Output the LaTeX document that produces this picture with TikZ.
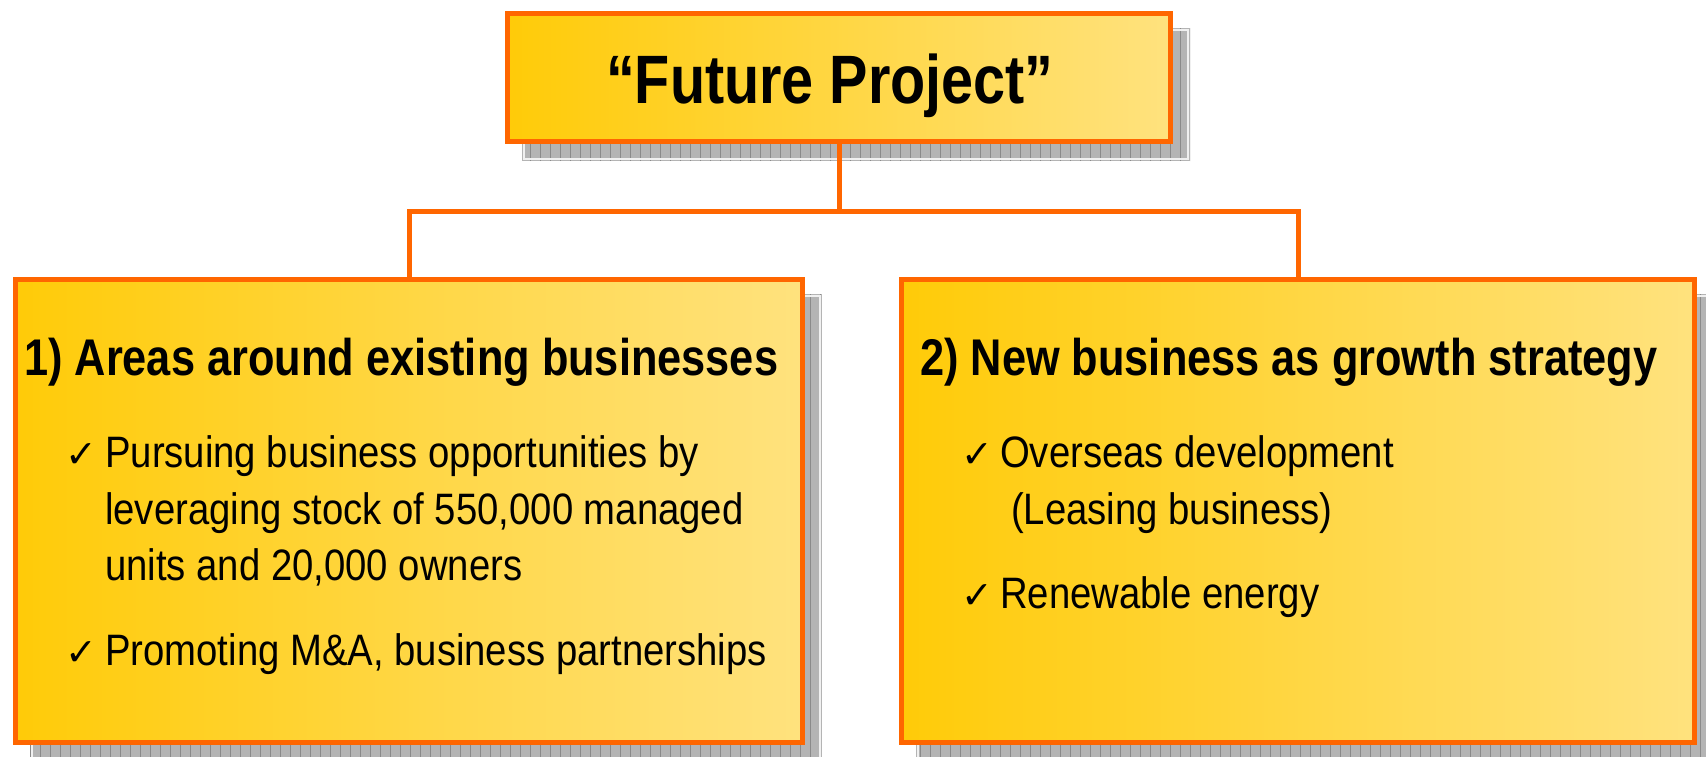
\documentclass[tikz,border=0pt]{standalone}
\usepackage{fontspec}
\setmainfont{Liberation Sans}
\newfontfamily\narrowfont[FakeStretch=0.84]{Liberation Sans}
\newfontfamily\bodyfont[FakeStretch=0.87]{Liberation Sans}
\newfontfamily\symfont{DejaVu Sans}
\definecolor{boxorange}{HTML}{FF6600}
\definecolor{yelL}{HTML}{FFCB08}
\definecolor{yelR}{HTML}{FFE27E}
\definecolor{shadowfill}{HTML}{B4B4B4}
\definecolor{shadowline}{HTML}{8A8A8A}
\tikzset{
  mainbox/.style={draw=boxorange, line width=5pt, left color=yelL, right color=yelR, inner sep=0pt, outer sep=0pt},
  conn/.style={draw=boxorange, line width=5pt},
  titletext/.style={inner sep=0pt, font=\narrowfont\bfseries\fontsize{68.5}{80}\selectfont},
  headtext/.style={inner sep=0pt, anchor=base west, font=\narrowfont\bfseries\fontsize{51.6}{60}\selectfont},
  bodytext/.style={inner sep=0pt, anchor=base west, font=\bodyfont\fontsize{44}{56}\selectfont},
  checkmark/.style={inner sep=0pt, anchor=base west, font=\symfont\fontsize{38}{44}\selectfont},
  shadowgrid/.style={draw=shadowline, line width=1pt}
}
\begin{document}
\begin{tikzpicture}[x=1pt,y=-1pt]
\useasboundingbox (0,0) rectangle (1706,756);
\fill[white] (0,0) rectangle (1706,756);
% shadows
\foreach \xa/\ya/\xb/\yb in {522/28/1190/161, 30/294/822/762, 916/294/1714/762}{
  \fill[shadowfill] (\xa,\ya) rectangle (\xb,\yb);
  \begin{scope}
    \clip (\xa,\ya) rectangle (\xb,\yb);
    \draw[shadowgrid] (\xa,\ya) grid[step=10] (\xb,\yb);
  \end{scope}
  \draw[white!80!shadowfill, line width=1.5pt] (\xa+2,\ya+2) rectangle (\xb-2,\yb-2);
}
% boxes
\node[mainbox, minimum width=663pt, minimum height=128pt] (top) at (839,77.5) {};
\node[mainbox, minimum width=787pt, minimum height=463pt] (left) at (409,511) {};
\node[mainbox, minimum width=793pt, minimum height=463pt] (right) at (1298,511) {};
% connectors
\coordinate (junc) at (839,211);
\draw[conn] (top.south) -- (junc);
\draw[conn] (junc) -| (left.north);
\draw[conn] (junc) -| (right.north);
% texts
\node[titletext, anchor=base] (title) at (830,103) {“Future Project”};
\node[headtext] (h1) at (24,375) {1) Areas around existing businesses};
\node[headtext] (h2) at (920,375) {2) New business as growth strategy};
\node[checkmark] (c1) at (65,467) {✓};
\node[bodytext] (l1a) at (105,467) {Pursuing business opportunities by};
\node[bodytext] (l1b) at (105,524) {leveraging stock of 550,000 managed};
\node[bodytext] (l1c) at (105,580) {units and 20,000 owners};
\node[checkmark] (c2) at (65,665) {✓};
\node[bodytext] (l2) at (105,665) {Promoting M\&A, business partnerships};
\node[checkmark] (c3) at (961,467) {✓};
\node[bodytext] (r1a) at (1000,467) {Overseas development};
\node[bodytext] (r1b) at (1011,524) {(Leasing business)};
\node[checkmark] (c4) at (961,608) {✓};
\node[bodytext] (r2) at (1000,608) {Renewable energy};
\end{tikzpicture}
\end{document}
